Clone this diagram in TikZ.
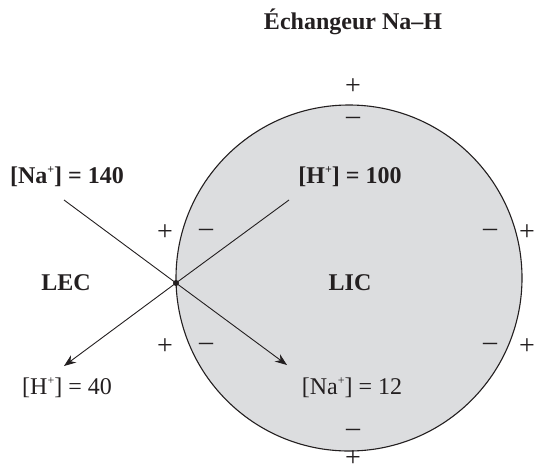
\documentclass[tikz,border=0pt]{standalone}
\usepackage{fontspec}
\setmainfont{Liberation Serif}
\usetikzlibrary{arrows.meta}
\definecolor{ink}{HTML}{231F20}
\definecolor{cellgray}{HTML}{DCDDDF}
\newcommand{\ionsup}{\raisebox{0.42em}{\fontsize{12}{12}\selectfont +}}
\begin{document}
\begin{tikzpicture}[x=1pt,y=-1pt,
  lbl/.style={inner sep=0pt,text=ink,font=\fontsize{24}{28}\selectfont},
  blbl/.style={lbl,font=\fontsize{24}{28}\selectfont\bfseries},
  sgn/.style={inner sep=0pt,text=ink,font=\fontsize{28}{30}\selectfont},
  flow/.style={draw=ink,line width=0.9pt},
  flowarrow/.style={flow,-{Stealth[length=12pt,width=9pt]}}]
\useasboundingbox (0,0) rectangle (535,474);
% cell
\node[circle,draw=ink,fill=cellgray,line width=1.1pt,minimum size=346pt,inner sep=0pt] (cell) at (349,278) {};
% title
\node[blbl] (title) at (353,22) {Échangeur Na–H};
% concentrations
\node[blbl] (naout) at (67,177) {[Na\ionsup] = 140};
\node[blbl] (hin) at (350,177) {[H\ionsup] = 100};
\node[blbl] (lec) at (66,283) {LEC};
\node[blbl] (lic) at (350,283) {LIC};
\node[lbl] (hout) at (67,388) {[H\ionsup] = 40};
\node[lbl] (nain) at (352,388) {[Na\ionsup] = 12};
% exchanger
\coordinate (naS) at (64,200);
\coordinate (naE) at (287,365);
\coordinate (hS) at (289,200);
\coordinate (hE) at (64,366);
\node[circle,fill=ink,inner sep=0pt,minimum size=6pt] (ex) at (176,283) {};
\draw[flow] (naS) -- (ex.center);
\draw[flowarrow] (ex.center) -- (naE);
\draw[flow] (hS) -- (ex.center);
\draw[flowarrow] (ex.center) -- (hE);
% charges
\node[sgn] (p1) at (353,87) {+};
\node[sgn] (m1) at (353,121) {–};
\node[sgn] (m2) at (353,433) {–};
\node[sgn] (p2) at (353,459) {+};
\node[sgn] (p3) at (165,233) {+};
\node[sgn] (m3) at (206,233) {–};
\node[sgn] (p4) at (165,347) {+};
\node[sgn] (m4) at (206,347) {–};
\node[sgn] (m5) at (490,233) {–};
\node[sgn] (p5) at (527,233) {+};
\node[sgn] (m6) at (490,347) {–};
\node[sgn] (p6) at (527,347) {+};
\end{tikzpicture}
\end{document}
